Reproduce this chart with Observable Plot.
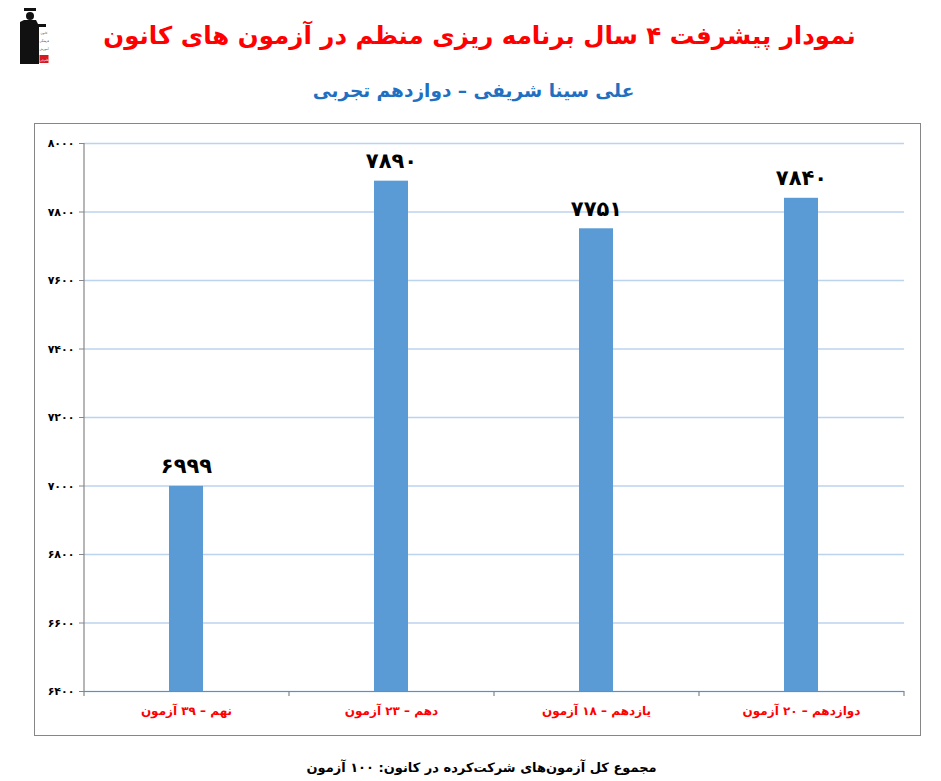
<!DOCTYPE html>
<html>
<head>
<meta charset="utf-8">
<script src="https://cdn.jsdelivr.net/npm/d3@7"></script>
<script src="https://cdn.jsdelivr.net/npm/@observablehq/plot@0.6"></script>
<style>
  html, body { margin: 0; padding: 0; background: #fff; }
  #page { position: relative; width: 941px; height: 781px; font-family: "DejaVu Sans", sans-serif; overflow: hidden; }
  .t { position: absolute; left: 0; width: 941px; text-align: center; direction: rtl; font-weight: bold; white-space: nowrap; }
  #title { top: 21px; left: 9px; font-size: 24.5px; color: #ff0000; }
  #subtitle { top: 80px; left: 3px; font-size: 18.5px; color: #1f70c1; }
  #caption { top: 760px; left: 11px; font-size: 13px; color: #000; }
  #frame { position: absolute; left: 35px; top: 124px; width: 885px; height: 611px; outline: 1px solid #868686; }
  #logo { position: absolute; left: 18px; top: 6px; overflow: visible; }
</style>
</head>
<body>
<div id="page">
  <svg id="logo" width="34" height="58" viewBox="0 0 34 58">
    <circle cx="12" cy="10" r="4" fill="#111"/>
    <rect x="6" y="2" width="12" height="3" fill="#111"/>
    <path d="M2 16 L6 14 L18 14 L20 18 L28 18 L28 21 L21 21 L21 58 L2 58 Z" fill="#111"/>
    <g font-size="3" fill="#333">
      <text x="26" y="28" text-anchor="middle">کانون</text>
      <text x="26" y="36" text-anchor="middle">فرهنگی</text>
      <text x="26" y="44" text-anchor="middle">آموزش</text>
    </g>
    <rect x="21.5" y="49" width="9" height="8" fill="#d71920"/>
    <text x="26" y="54.5" font-size="3" fill="#fff" text-anchor="middle">قلم‌چی</text>
  </svg>
  <div id="title" class="t">نمودار پیشرفت ۴ سال برنامه ریزی منظم در آزمون های کانون</div>
  <div id="subtitle" class="t">علی سینا شریفی – دوازدهم تجربی</div>
  <div id="frame"></div>
  <div id="caption" class="t">مجموع کل آزمون‌های شرکت‌کرده در کانون: ۱۰۰ آزمون</div>
</div>
<script>
// ---- data ----
const categories = ["نهم – ۳۹ آزمون", "دهم – ۲۳ آزمون", "یازدهم – ۱۸ آزمون", "دوازدهم – ۲۰ آزمون"];
const values = [6999, 7890, 7751, 7840];
const yTicks = [6400, 6600, 6800, 7000, 7200, 7400, 7600, 7800, 8000];
const yDomain = [6400, 8000];

const fa = n => String(n).replace(/\d/g, d => "۰۱۲۳۴۵۶۷۸۹"[d]);
const data = categories.map((c, i) => ({cat: categories[i], value: values[i]}));

function axisLines(index, scales, values, dim) {
  const {width, marginLeft, marginRight} = dim;
  const y = scales.y;
  const n = categories.length;
  const step = (width - marginLeft - marginRight) / n;
  const y0 = y(yDomain[0]);
  const g = d3.create("svg:g").attr("stroke", "#868686").attr("fill", "none").attr("stroke-width", 1.2);
  g.append("line").attr("x1", marginLeft).attr("x2", marginLeft).attr("y1", y(yDomain[1])).attr("y2", y0 + 5);
  for (let i = 1; i <= n; i++) {
    const bx = marginLeft + i * step;
    g.append("line").attr("x1", bx).attr("x2", bx).attr("y1", y0).attr("y2", y0 + 5);
  }
  return g.node();
}

const chart = Plot.plot({
  width: 885,
  height: 611,
  marginLeft: 49,
  marginRight: 16,
  marginTop: 19,
  marginBottom: 44,
  style: {fontFamily: "DejaVu Sans, sans-serif", background: "transparent", overflow: "visible"},
  x: {domain: categories, paddingInner: 0.834, paddingOuter: 0.417, label: null},
  y: {domain: yDomain, label: null},
  marks: [
    Plot.gridY(yTicks, {stroke: "#bcd3ee", strokeOpacity: 1, strokeWidth: 1.3}),
    Plot.barY(data, {x: "cat", y1: yDomain[0], y2: "value", fill: "#5b9bd5"}),
    Plot.ruleY([yDomain[0]], {stroke: "#868686", strokeWidth: 1.2}),
    axisLines,
    Plot.axisY({ticks: yTicks, tickFormat: fa, tickSize: 5, tickPadding: 5, fontSize: 11, fontWeight: "bold", stroke: "#868686", color: "#000", label: null}),
    Plot.axisX({tickSize: 0, tickPadding: 15, fontSize: 12, fontWeight: "bold", color: "#ff0000", label: null}),
    Plot.text(data, {x: "cat", y: "value", text: d => fa(d.value), lineAnchor: "bottom", dy: -13, fontSize: 21, fontWeight: "bold", fill: "#000"})
  ]
});
document.getElementById("frame").appendChild(chart);
</script>
</body>
</html>
